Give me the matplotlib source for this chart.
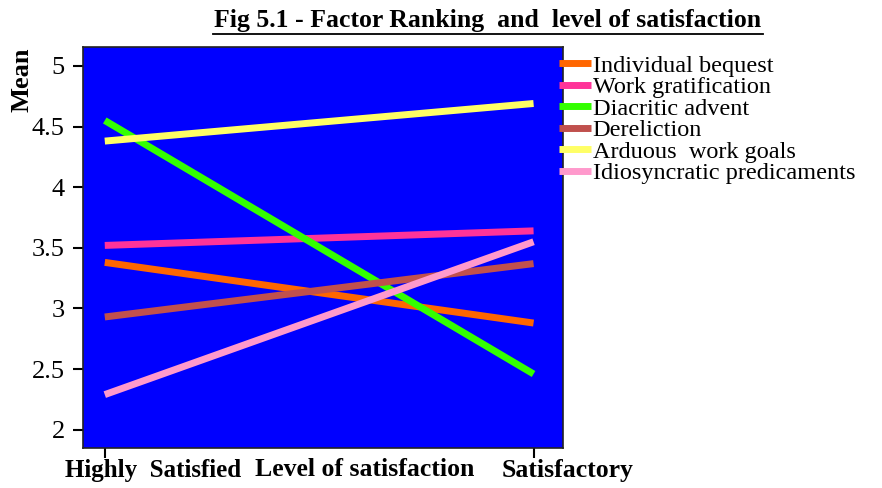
import numpy as np
import matplotlib.pyplot as plt

levels = ["Highly  Satisfied", "Satisfactory"]
factors = ["Individual bequest", "Work gratification", "Diacritic advent",
           "Dereliction", "Arduous  work goals", "Idiosyncratic predicaments"]
highly = [3.38, 3.52, 4.55, 2.93, 4.38, 2.29]
satisfactory = [2.88, 3.64, 2.46, 3.37, 4.69, 3.55]
colors = ["#FF6600", "#FF3399", "#33FF00", "#C0504D", "#FFFF66", "#FF99CC"]

plt.rcParams["font.family"] = ["Liberation Serif", "DejaVu Serif"]

fig = plt.figure(figsize=(8.82, 4.88), dpi=100)
ax = fig.add_axes([0.094, 0.082, 0.544, 0.822])
ax.set_facecolor("#0000FF")

x = np.arange(len(levels))
for name, a, b, c in zip(factors, highly, satisfactory, colors):
    ax.plot(x, [a, b], color=c, lw=5, solid_capstyle="butt", label=name)

ax.set_xlim(-0.051, 1.068)
ax.set_ylim(1.85, 5.157)
ax.set_yticks([2, 2.5, 3, 3.5, 4, 4.5, 5])
ax.set_yticklabels(["2", "2.5", "3", "3.5", "4", "4.5", "5"], fontsize=19)
ax.set_xticks(x)
ax.set_xticklabels([])
ax.tick_params(axis="both", direction="out", length=7, width=1.5, color="black", pad=6)
for s in ax.spines.values():
    s.set_linewidth(1.2)
    s.set_color("#222222")

fig.text(153 / 882, 1 - 471 / 488, levels[0], ha="center", va="center",
         fontsize=18, fontweight="bold")
fig.text(568 / 882, 1 - 471 / 488, levels[1], ha="center", va="center",
         fontsize=18.5, fontweight="bold")
fig.text(365 / 882, 1 - 469 / 488, "Level of satisfaction", ha="center", va="center",
         fontsize=18.5, fontweight="bold")
fig.text(22 / 882, 1 - 80 / 488, "Mean", ha="center", va="center", rotation=90,
         fontsize=19, fontweight="bold")

fig.text(488 / 882, 1 - 21 / 488, "Fig 5.1 - Factor Ranking  and  level of satisfaction",
         ha="center", va="center", fontsize=18.5, fontweight="bold")
fig.add_artist(plt.Line2D([213 / 882, 763 / 882], [1 - 34 / 488, 1 - 34 / 488],
                          color="black", lw=1.3))

leg = ax.legend(loc="upper left", bbox_to_anchor=(0.972, 1.005), frameon=False,
                fontsize=17.5, handlelength=1.3, handletextpad=0.08,
                labelspacing=-0.02, borderaxespad=0)

fig.savefig("out.png", dpi=100)
